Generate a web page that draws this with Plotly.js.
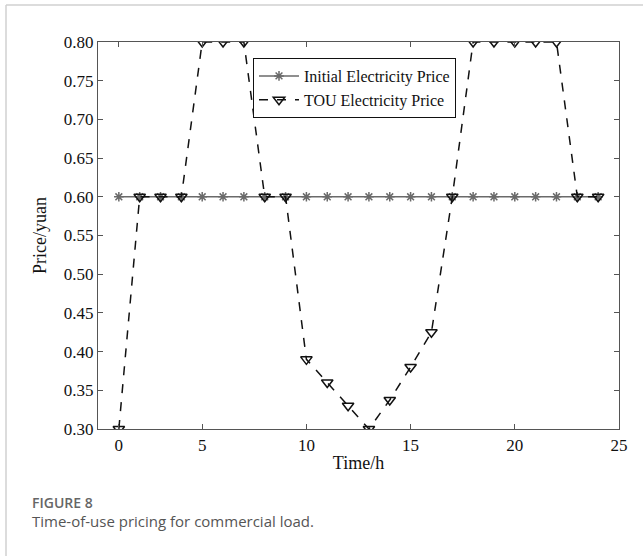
<!DOCTYPE html>
<html>
<head>
<meta charset="utf-8">
<script src="https://cdn.plot.ly/plotly-3.0.1.min.js"></script>
<style>
html,body{margin:0;padding:0;background:#fff;}
#chart{width:643px;height:556px;}
</style>
</head>
<body>
<div id="chart"></div>
<script>
// Data
const hours = [1,2,3,4,5,6,7,8,9,10,11,12,13,14,15,16,17,18,19,20,21,22,23,24];
const initialPrice = [0.6,0.6,0.6,0.6,0.6,0.6,0.6,0.6,0.6,0.6,0.6,0.6,0.6,0.6,0.6,0.6,0.6,0.6,0.6,0.6,0.6,0.6,0.6,0.6];
const touPrice = [0.30,0.60,0.60,0.60,0.80,0.80,0.80,0.60,0.60,0.39,0.36,0.33,0.30,0.3375,0.38,0.425,0.60,0.80,0.80,0.80,0.80,0.80,0.60,0.60];
const xTickVals = [1,5,10,15,20,25];
const xTickText = ['0','5','10','15','20','25'];
const yTickVals = [0.30,0.35,0.40,0.45,0.50,0.55,0.60,0.65,0.70,0.75,0.80];
const seriesNames = ['Initial Electricity Price','TOU Electricity Price'];

const serif = 'Liberation Serif, Times New Roman, serif';
const W = 643, H = 556, L = 98, R = 619, T = 42, B = 429;
const px = x => (x - L) / (R - L);
const py = y => (B - y) / (B - T);

const traces = [
  {
    x: hours, y: initialPrice, name: seriesNames[0], type: 'scatter', mode: 'lines+markers',
    line: {color: '#6a6a6a', width: 1.5},
    marker: {symbol: 'asterisk-open', size: 8, color: '#6a6a6a', line: {color: '#6a6a6a', width: 1.5}}
  },
  {
    x: hours, y: touPrice, name: seriesNames[1], type: 'scatter', mode: 'lines+markers',
    line: {color: '#111', width: 1.5, dash: 'dash'},
    marker: {symbol: 'triangle-down-open', size: 10, color: '#111', line: {color: '#111', width: 1.5}}
  }
];

const axisCommon = {
  showgrid: false, zeroline: false, showline: true, linecolor: '#555', linewidth: 1.2,
  mirror: 'ticks', ticks: 'inside', ticklen: 5, tickcolor: '#555',
  tickfont: {family: serif, size: 17, color: '#111'}
};

const layout = {
  width: W, height: H,
  margin: {l: L, r: W - R, t: T, b: H - B},
  paper_bgcolor: '#fff', plot_bgcolor: '#fff',
  showlegend: true,
  legend: {
    x: px(253), y: py(58), xanchor: 'left', yanchor: 'top',
    bordercolor: '#111', borderwidth: 1, bgcolor: '#fff',
    font: {family: serif, size: 16, color: '#111'},
    tracegroupgap: 0, itemwidth: 40
  },
  xaxis: Object.assign({}, axisCommon, {
    range: [0, 25], tickvals: xTickVals, ticktext: xTickText,
    title: {text: 'Time/h', font: {family: serif, size: 18, color: '#111'}, standoff: 2}
  }),
  yaxis: Object.assign({}, axisCommon, {
    range: [0.30, 0.80], tickvals: yTickVals, tickformat: '.2f',
    title: {text: 'Price/yuan', font: {family: serif, size: 18, color: '#111'}, standoff: 12}
  }),
  shapes: [
    {type: 'line', xref: 'paper', yref: 'paper', x0: px(6), x1: px(643), y0: py(5), y1: py(5), line: {color: '#d0d0d0', width: 1.5}},
    {type: 'line', xref: 'paper', yref: 'paper', x0: px(6), x1: px(6), y0: py(5), y1: py(556), line: {color: '#d0d0d0', width: 1.5}}
  ],
  annotations: [
    {xref: 'paper', yref: 'paper', x: px(30), y: py(502), xanchor: 'left', yanchor: 'middle', showarrow: false,
     text: 'FIGURE 8', font: {family: 'Open Sans, sans-serif', size: 14, color: '#666', weight: 600}},
    {xref: 'paper', yref: 'paper', x: px(30), y: py(521), xanchor: 'left', yanchor: 'middle', showarrow: false,
     text: 'Time-of-use pricing for commercial load.', font: {family: 'Open Sans, sans-serif', size: 15, color: '#555'}}
  ]
};

Plotly.newPlot('chart', traces, layout, {displayModeBar: false, staticPlot: true});
</script>
</body>
</html>
